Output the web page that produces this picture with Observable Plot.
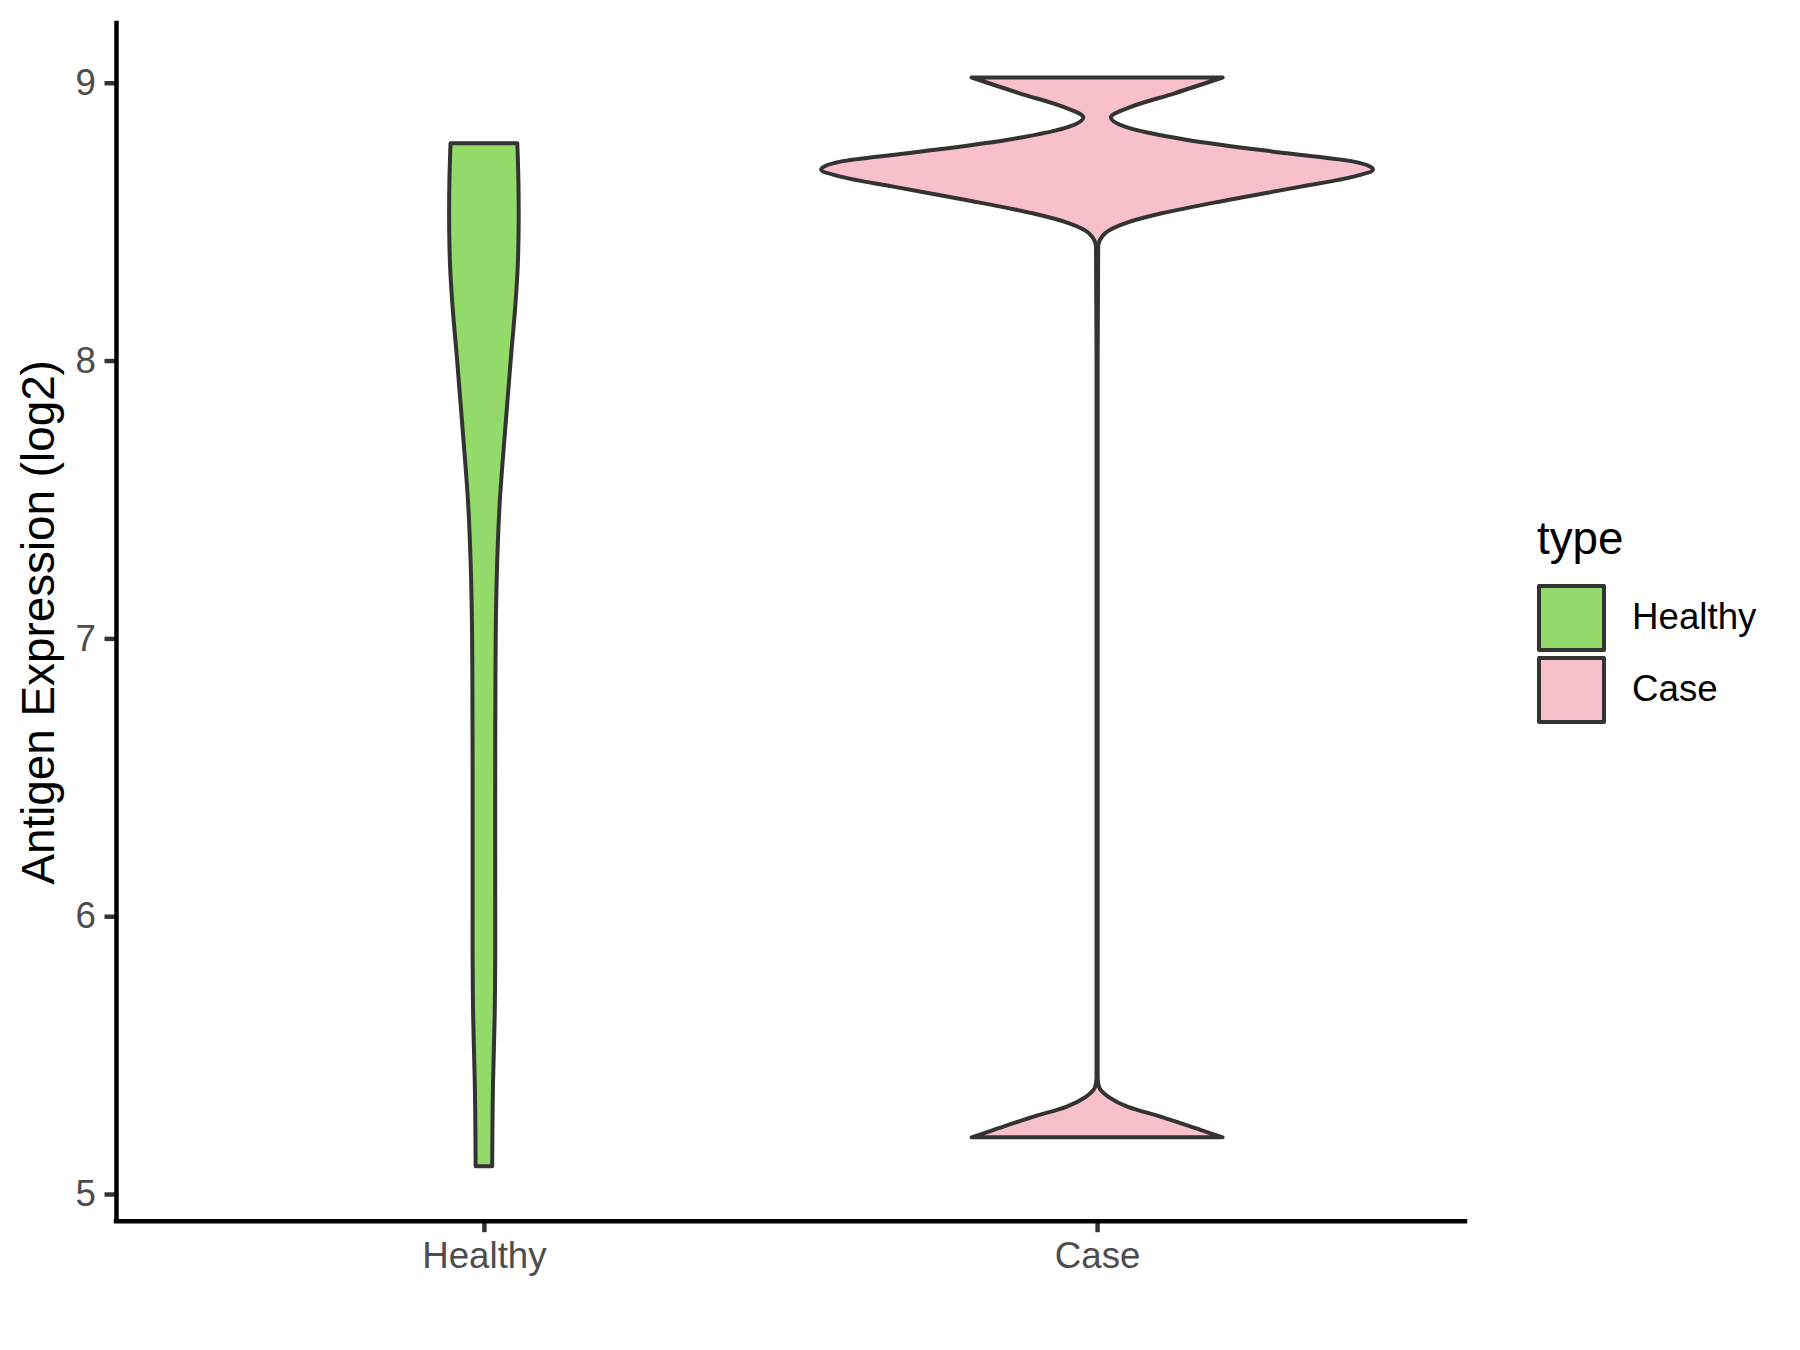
<!DOCTYPE html>
<html>
<head>
<meta charset="utf-8">
<script src="https://cdn.jsdelivr.net/npm/d3@7"></script>
<script src="https://cdn.jsdelivr.net/npm/@observablehq/plot@0.6"></script>
<style>
  html, body { margin: 0; padding: 0; background: #ffffff; }
  #wrap { position: relative; width: 1800px; height: 1350px; font-family: "Liberation Sans", Arial, sans-serif; }
  #legend { position: absolute; left: 0; top: 0; }
  .lg-title { position: absolute; left: 1537px; top: 516px; font-size: 45.8px; line-height: 45.8px; color: #000; white-space: nowrap; }
  .lg-key { position: absolute; left: 1537px; width: 69px; height: 68px; box-sizing: border-box; border: 4px solid #333333; border-radius: 2px; }
  .lg-label { position: absolute; left: 1632px; font-size: 36.7px; line-height: 36.7px; color: #000; white-space: nowrap; }
</style>
</head>
<body>
<div id="wrap"></div>
<script>
// ---- data ----
const categories = ["Healthy", "Case"];
const positions = [1, 2];
const fills = ["#93DA6A", "#F8C0CB"];
const yTicks = [5, 6, 7, 8, 9];
const yDomain = [4.904, 9.215];
const xDomain = [0.4, 2.6];
const yLabel = "Antigen Expression (log2)";
const legendTitle = "type";
const violinWidth = 0.9;

// violin profiles: expression value and relative density (Case peak = 1)
const healthyY = [5.10, 5.25, 5.40, 5.64, 5.85, 6.10, 6.50, 6.90, 7.10, 7.30, 7.50, 7.75, 8.00, 8.20, 8.35, 8.50, 8.65, 8.782];
const healthyDensity = [0.030, 0.031, 0.033, 0.039, 0.041, 0.041, 0.041, 0.042, 0.044, 0.049, 0.058, 0.077, 0.097, 0.114, 0.123, 0.126, 0.125, 0.121];

const caseY = [5.204, 5.23, 5.278, 5.314, 5.35, 5.386, 5.42, 6.0, 7.0, 8.0, 8.41, 8.458, 8.494, 8.53, 8.578, 8.626, 8.662, 8.688, 8.716, 8.746, 8.794, 8.842, 8.875, 8.914, 8.962, 9.019];
const caseDensity = [0.455, 0.377, 0.233, 0.112, 0.041, 0.007, 0.002, 0.002, 0.002, 0.002, 0.004, 0.029, 0.101, 0.234, 0.475, 0.739, 0.93, 1.0, 0.93, 0.688, 0.328, 0.101, 0.050, 0.125, 0.281, 0.455];

// ---- build tables ----
const healthyRows = healthyY.map((v, i) => ({cat: categories[0], pos: positions[0], v, d: healthyDensity[i]}));
const caseRows = caseY.map((v, i) => ({cat: categories[1], pos: positions[1], v, d: caseDensity[i]}));
const maxD = d3.max([...healthyRows, ...caseRows], r => r.d);
const half = r => r.d / maxD * violinWidth / 2;

const violin = (rows, curve) => Plot.areaX(rows, {
  y: "v",
  x1: r => r.pos - half(r),
  x2: r => r.pos + half(r),
  z: "cat",
  fill: "cat",
  stroke: "#333333",
  strokeWidth: 4,
  strokeLinejoin: "round",
  curve
});

const chart = Plot.plot({
  width: 1800,
  height: 1350,
  marginLeft: 116,
  marginRight: 335,
  marginTop: 23,
  marginBottom: 129.3,
  style: {fontFamily: "'Liberation Sans', Arial, sans-serif", background: "#ffffff", overflow: "visible"},
  x: {domain: xDomain, axis: null},
  y: {domain: yDomain, axis: null},
  color: {domain: categories, range: fills},
  marks: [
    violin(healthyRows, "catmull-rom"),
    violin(caseRows, "monotone-y"),
    Plot.axisY({
      ticks: yTicks,
      tickFormat: d => String(d),
      tickSize: 11.5,
      tickPadding: 9.2,
      strokeWidth: 4.45,
      stroke: "#333333",
      fill: "#4D4D4D",
      fontSize: 36.7,
      label: null
    }),
    Plot.axisX({
      ticks: positions,
      tickFormat: d => categories[positions.indexOf(d)],
      tickSize: 11.5,
      tickPadding: 9.2,
      strokeWidth: 4.45,
      stroke: "#333333",
      fill: "#4D4D4D",
      fontSize: 36.7,
      label: null
    }),
    Plot.ruleX([xDomain[0]], {stroke: "#000000", strokeWidth: 4.45, strokeLinecap: "square"}),
    Plot.ruleY([yDomain[0]], {stroke: "#000000", strokeWidth: 4.45, strokeLinecap: "square"}),
    Plot.text([yLabel], {
      frameAnchor: "left",
      rotate: -90,
      dx: -77.4,
      fontSize: 45.8,
      fill: "#000000",
      textAnchor: "middle",
      lineAnchor: "middle"
    })
  ]
});

const wrap = document.getElementById("wrap");
wrap.appendChild(chart);

// ---- legend (HTML, right of the panel) ----
const legend = document.createElement("div");
legend.id = "legend";
const t = document.createElement("div");
t.className = "lg-title";
t.textContent = legendTitle;
legend.appendChild(t);
const keyTops = [584, 656];
categories.forEach((c, i) => {
  const k = document.createElement("div");
  k.className = "lg-key";
  k.style.top = keyTops[i] + "px";
  k.style.background = fills[i];
  legend.appendChild(k);
  const l = document.createElement("div");
  l.className = "lg-label";
  l.style.top = (keyTops[i] + 15) + "px";
  l.textContent = c;
  legend.appendChild(l);
});
wrap.appendChild(legend);
</script>
</body>
</html>
